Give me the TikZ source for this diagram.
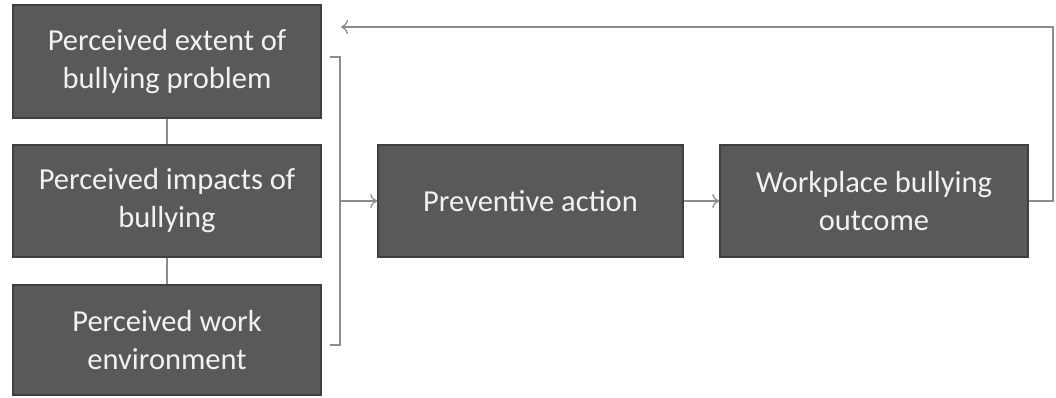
\documentclass[tikz,border=0pt]{standalone}
\usepackage{fontspec}
\setmainfont{Carlito}
\usetikzlibrary{arrows.meta}
\definecolor{boxfill}{HTML}{595959}
\definecolor{boxline}{HTML}{3F3F3F}
\definecolor{boxtext}{HTML}{F2F2F2}
\definecolor{linkgray}{HTML}{8C8C8C}
\begin{document}
\begin{tikzpicture}[x=1pt,y=-1pt,
  darkbox/.style={draw=boxline,line width=1.5pt,fill=boxfill,text=boxtext,
    align=center,inner sep=0pt,font=\fontsize{30.5}{38}\selectfont},
  link/.style={draw=linkgray,line width=1.3pt},
  flow/.style={link,-{To[length=7pt,width=14pt]}}]
\useasboundingbox (0,0) rectangle (1056,397);
% factor boxes on the left
\node[darkbox,minimum width=308pt,minimum height=113pt] (extent) at (167,61.5) {Perceived extent of\\bullying problem};
\node[darkbox,minimum width=308pt,minimum height=112pt] (impacts) at (167,201) {Perceived impacts of\\bullying};
\node[darkbox,minimum width=308pt,minimum height=110pt] (environ) at (167,340) {Perceived work\\environment};
% process boxes
\node[darkbox,minimum width=305pt,minimum height=112pt] (action) at (530.5,201) {Preventive action};
\node[darkbox,minimum width=308pt,minimum height=112pt] (outcome) at (874,201) {Workplace bullying\\outcome};
% joints between the factor boxes
\draw[link] (extent.south) -- (impacts.north);
\draw[link] (impacts.south) -- (environ.north);
% bracket gathering the factors
\coordinate (btop) at (330,57);
\coordinate (bbot) at (330,345);
\draw[link] (btop) -- ++(10,0) |- (bbot);
\coordinate (bmid) at (340,201);
\draw[flow] (bmid) -- (action.west);
\draw[flow] (action.east) -- (outcome.west);
% feedback loop
\coordinate (fbend) at (1053,27);
\coordinate (fbtip) at (341,27);
\draw[flow] (outcome.east) -| (fbend) -- (fbtip);
\end{tikzpicture}
\end{document}
